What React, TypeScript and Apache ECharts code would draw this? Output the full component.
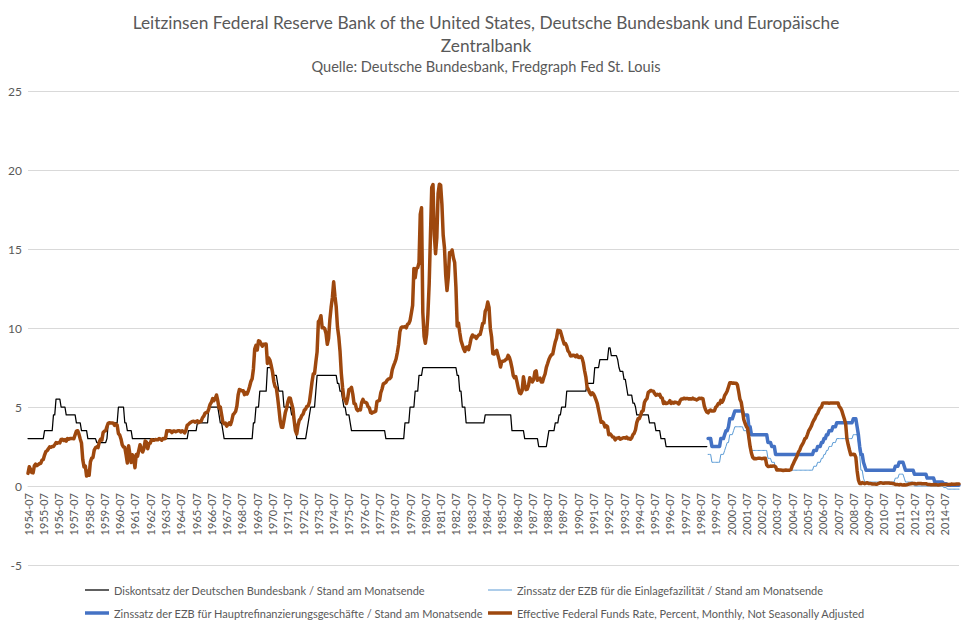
import React, { useEffect, useRef } from "react";
import * as echarts from "echarts";

// Monthly categories 1954-07 .. 2015-06
const startYear = 1954;
const startMonth = 7;
const monthCount = 732;
const categories: string[] = [];
for (let i = 0; i < monthCount; i++) {
  const m = startMonth - 1 + i;
  const y = startYear + Math.floor(m / 12);
  const mm = (m % 12) + 1;
  categories.push(`${y}-${mm < 10 ? "0" + mm : mm}`);
}

const yTicks = [-5, 0, 5, 10, 15, 20, 25];

// Diskontsatz der Deutschen Bundesbank, 1954-07 .. 1998-12
const diskontsatz: number[] = [
  3, 3, 3, 3, 3, 3,
  3, 3, 3, 3, 3, 3, 3, 3.5, 3.5, 3.5, 3.5, 3.5,
  3.5, 3.5, 4.5, 4.5, 5.5, 5.5, 5.5, 5.5, 5, 5, 5, 5,
  4.5, 4.5, 4.5, 4.5, 4.5, 4.5, 4.5, 4.5, 4, 4, 4, 4,
  3.5, 3.5, 3.5, 3.5, 3.5, 3, 3, 3, 3, 3, 3, 3,
  2.75, 2.75, 2.75, 2.75, 2.75, 2.75, 2.75, 2.75, 3, 4, 4, 4,
  4, 4, 4, 4, 4, 5, 5, 5, 5, 5, 4, 4,
  3.5, 3.5, 3.5, 3.5, 3, 3, 3, 3, 3, 3, 3, 3,
  3, 3, 3, 3, 3, 3, 3, 3, 3, 3, 3, 3,
  3, 3, 3, 3, 3, 3, 3, 3, 3, 3, 3, 3,
  3, 3, 3, 3, 3, 3, 3, 3, 3, 3, 3, 3,
  3.5, 3.5, 3.5, 3.5, 3.5, 3.5, 3.5, 4, 4, 4, 4, 4,
  4, 4, 4, 4, 5, 5, 5, 5, 5, 5, 5, 5,
  4.5, 4, 4, 3.5, 3, 3, 3, 3, 3, 3, 3, 3,
  3, 3, 3, 3, 3, 3, 3, 3, 3, 3, 3, 3,
  3, 3, 3, 4, 4, 5, 5, 5, 6, 6, 6, 6,
  6, 6, 7.5, 7.5, 7.5, 7.5, 7, 7, 7, 7, 6.5, 6,
  6, 6, 6, 5, 5, 5, 5, 5, 5, 4.5, 4.5, 4,
  4, 3, 3, 3, 3, 3, 3, 3, 3, 3.5, 4, 4.5,
  5, 5, 5, 5, 6, 7, 7, 7, 7, 7, 7, 7,
  7, 7, 7, 7, 7, 7, 7, 7, 7, 6.5, 6.5, 6,
  6, 5.5, 5, 5, 4.5, 4.5, 4.5, 4, 3.5, 3.5, 3.5, 3.5,
  3.5, 3.5, 3.5, 3.5, 3.5, 3.5, 3.5, 3.5, 3.5, 3.5, 3.5, 3.5,
  3.5, 3.5, 3.5, 3.5, 3.5, 3.5, 3.5, 3.5, 3.5, 3.5, 3.5, 3,
  3, 3, 3, 3, 3, 3, 3, 3, 3, 3, 3, 3,
  3, 3, 4, 4, 4, 4, 5, 5, 5, 5, 6, 6,
  6, 7, 7, 7, 7.5, 7.5, 7.5, 7.5, 7.5, 7.5, 7.5, 7.5,
  7.5, 7.5, 7.5, 7.5, 7.5, 7.5, 7.5, 7.5, 7.5, 7.5, 7.5, 7.5,
  7.5, 7.5, 7.5, 7.5, 7.5, 7.5, 7.5, 7, 7, 6, 6, 5,
  5, 5, 4, 4, 4, 4, 4, 4, 4, 4, 4, 4,
  4, 4, 4, 4, 4, 4.5, 4.5, 4.5, 4.5, 4.5, 4.5, 4.5,
  4.5, 4.5, 4.5, 4.5, 4.5, 4.5, 4.5, 4.5, 4.5, 4.5, 4.5, 4.5,
  4.5, 4.5, 3.5, 3.5, 3.5, 3.5, 3.5, 3.5, 3.5, 3.5, 3.5, 3.5,
  3, 3, 3, 3, 3, 3, 3, 3, 3, 3, 3, 2.5,
  2.5, 2.5, 2.5, 2.5, 2.5, 2.5, 3, 3.5, 3.5, 3.5, 3.5, 3.5,
  4, 4, 4, 4.5, 4.5, 5, 5, 5, 5, 6, 6, 6,
  6, 6, 6, 6, 6, 6, 6, 6, 6, 6, 6, 6,
  6, 6.5, 6.5, 6.5, 6.5, 6.5, 6.5, 7.5, 7.5, 7.5, 7.5, 8,
  8, 8, 8, 8, 8, 8, 8.75, 8.75, 8.25, 8.25, 8.25, 8.25,
  8.25, 8, 7.5, 7.25, 7.25, 7.25, 6.75, 6.75, 6.25, 5.75, 5.75, 5.75,
  5.75, 5.25, 5.25, 5, 4.5, 4.5, 4.5, 4.5, 4.5, 4.5, 4.5, 4.5,
  4.5, 4.5, 4, 4, 4, 4, 4, 3.5, 3.5, 3.5, 3.5, 3,
  3, 3, 3, 2.5, 2.5, 2.5, 2.5, 2.5, 2.5, 2.5, 2.5, 2.5,
  2.5, 2.5, 2.5, 2.5, 2.5, 2.5, 2.5, 2.5, 2.5, 2.5, 2.5, 2.5,
  2.5, 2.5, 2.5, 2.5, 2.5, 2.5, 2.5, 2.5, 2.5, 2.5, 2.5, 2.5,
];

// EZB Einlagefazilität, 1999-01 .. 2015-06
const ezbEinlage: number[] = [
  2, 2, 2, 1.5, 1.5, 1.5, 1.5, 1.5, 1.5, 1.5, 2, 2,
  2, 2.25, 2.5, 2.75, 2.75, 3.25, 3.25, 3.25, 3.5, 3.75, 3.75, 3.75,
  3.75, 3.75, 3.75, 3.75, 3.5, 3.5, 3.5, 3.25, 2.75, 2.75, 2.25, 2.25,
  2.25, 2.25, 2.25, 2.25, 2.25, 2.25, 2.25, 2.25, 2.25, 2.25, 2.25, 1.75,
  1.75, 1.75, 1.5, 1.5, 1.5, 1, 1, 1, 1, 1, 1, 1,
  1, 1, 1, 1, 1, 1, 1, 1, 1, 1, 1, 1,
  1, 1, 1, 1, 1, 1, 1, 1, 1, 1, 1, 1.25,
  1.25, 1.25, 1.5, 1.5, 1.5, 1.75, 1.75, 2, 2, 2.25, 2.25, 2.5,
  2.5, 2.5, 2.75, 2.75, 2.75, 3, 3, 3, 3, 3, 3, 3,
  3, 3, 3, 3, 3, 3, 3.25, 3.25, 3.25, 3.25, 2.75, 2,
  1, 1, 0.5, 0.25, 0.25, 0.25, 0.25, 0.25, 0.25, 0.25, 0.25, 0.25,
  0.25, 0.25, 0.25, 0.25, 0.25, 0.25, 0.25, 0.25, 0.25, 0.25, 0.25, 0.25,
  0.25, 0.25, 0.25, 0.5, 0.5, 0.5, 0.75, 0.75, 0.75, 0.75, 0.5, 0.25,
  0.25, 0.25, 0.25, 0.25, 0.25, 0.25, 0, 0, 0, 0, 0, 0,
  0, 0, 0, 0, 0, 0, 0, 0, 0, 0, 0, 0,
  0, 0, 0, 0, 0, -0.1, -0.1, -0.1, -0.2, -0.2, -0.2, -0.2,
  -0.2, -0.2, -0.2, -0.2, -0.2, -0.2,
];

// EZB Hauptrefinanzierungsgeschäfte, 1999-01 .. 2015-06
const ezbHRG: number[] = [
  3, 3, 3, 2.5, 2.5, 2.5, 2.5, 2.5, 2.5, 2.5, 3, 3,
  3, 3.25, 3.5, 3.5, 3.75, 4.25, 4.25, 4.25, 4.5, 4.75, 4.75, 4.75,
  4.75, 4.75, 4.75, 4.75, 4.5, 4.5, 4.5, 4.5, 3.75, 3.75, 3.25, 3.25,
  3.25, 3.25, 3.25, 3.25, 3.25, 3.25, 3.25, 3.25, 3.25, 3.25, 3.25, 2.75,
  2.75, 2.75, 2.5, 2.5, 2.5, 2, 2, 2, 2, 2, 2, 2,
  2, 2, 2, 2, 2, 2, 2, 2, 2, 2, 2, 2,
  2, 2, 2, 2, 2, 2, 2, 2, 2, 2, 2, 2.25,
  2.25, 2.25, 2.5, 2.5, 2.5, 2.75, 2.75, 3, 3, 3.25, 3.25, 3.5,
  3.5, 3.5, 3.75, 3.75, 3.75, 4, 4, 4, 4, 4, 4, 4,
  4, 4, 4, 4, 4, 4, 4.25, 4.25, 4.25, 3.75, 3.25, 2.5,
  2, 2, 1.5, 1.25, 1, 1, 1, 1, 1, 1, 1, 1,
  1, 1, 1, 1, 1, 1, 1, 1, 1, 1, 1, 1,
  1, 1, 1, 1.25, 1.25, 1.25, 1.5, 1.5, 1.5, 1.5, 1.25, 1,
  1, 1, 1, 1, 1, 1, 0.75, 0.75, 0.75, 0.75, 0.75, 0.75,
  0.75, 0.75, 0.75, 0.75, 0.5, 0.5, 0.5, 0.5, 0.5, 0.5, 0.25, 0.25,
  0.25, 0.25, 0.25, 0.25, 0.25, 0.15, 0.15, 0.15, 0.05, 0.05, 0.05, 0.05,
  0.05, 0.05, 0.05, 0.05, 0.05, 0.05,
];

// Effective Federal Funds Rate, 1954-07 .. 2015-06
const fedFunds: number[] = [
  0.80, 1.22, 1.06, 0.85, 0.83, 1.28,
  1.39, 1.29, 1.35, 1.43, 1.43, 1.64, 1.68, 1.96, 2.18, 2.24, 2.35, 2.48,
  2.45, 2.50, 2.50, 2.62, 2.75, 2.71, 2.75, 2.73, 2.95, 2.96, 2.88, 2.94,
  2.84, 3.00, 2.96, 3.00, 3.00, 3.00, 2.99, 3.24, 3.47, 3.50, 3.28, 2.98,
  2.72, 1.67, 1.20, 1.26, 0.63, 0.93, 0.68, 1.53, 1.76, 1.80, 2.27, 2.42,
  2.48, 2.43, 2.80, 2.96, 2.90, 3.39, 3.47, 3.50, 3.76, 3.98, 4.00, 3.99,
  3.99, 3.97, 3.84, 3.92, 3.85, 3.32, 3.23, 2.98, 2.60, 2.47, 2.44, 1.98,
  1.45, 2.54, 2.02, 1.49, 1.98, 1.73, 1.16, 2.00, 1.88, 2.26, 2.61, 2.33,
  2.15, 2.37, 2.85, 2.78, 2.36, 2.68, 2.71, 2.93, 2.90, 2.90, 2.94, 2.93,
  2.92, 3.00, 2.98, 2.90, 3.00, 2.99, 3.02, 3.49, 3.48, 3.50, 3.48, 3.38,
  3.48, 3.48, 3.43, 3.47, 3.50, 3.50, 3.42, 3.50, 3.45, 3.36, 3.52, 3.85,
  3.90, 3.98, 4.04, 4.09, 4.10, 4.04, 4.09, 4.12, 4.01, 4.08, 4.10, 4.32,
  4.42, 4.60, 4.65, 4.67, 4.90, 5.17, 5.30, 5.53, 5.40, 5.53, 5.76, 5.40,
  4.94, 5.00, 4.53, 4.05, 3.94, 3.98, 3.79, 3.90, 3.99, 3.88, 4.13, 4.51,
  4.60, 4.71, 5.05, 5.76, 6.11, 6.07, 6.02, 6.03, 5.78, 5.91, 5.82, 6.02,
  6.30, 6.61, 6.79, 7.41, 8.67, 8.90, 8.61, 9.19, 9.15, 9.00, 8.85, 8.97,
  8.98, 8.98, 7.76, 8.10, 7.95, 7.61, 7.21, 6.61, 6.29, 6.20, 5.60, 4.90,
  4.14, 3.72, 3.71, 4.15, 4.63, 4.91, 5.31, 5.57, 5.55, 5.20, 4.91, 4.14,
  3.50, 3.29, 3.83, 4.17, 4.27, 4.46, 4.55, 4.80, 4.87, 5.04, 5.06, 5.33,
  5.94, 6.58, 7.09, 7.12, 7.84, 8.49, 10.40, 10.50, 10.78, 10.01, 10.03, 9.95,
  9.65, 8.97, 9.35, 10.51, 11.31, 11.93, 12.92, 12.01, 11.34, 10.06, 9.45, 8.53,
  7.13, 6.24, 5.54, 5.49, 5.22, 5.55, 6.10, 6.14, 6.24, 5.82, 5.22, 5.20,
  4.87, 4.77, 4.84, 4.82, 5.29, 5.48, 5.31, 5.29, 5.25, 5.02, 4.95, 4.65,
  4.61, 4.68, 4.69, 4.73, 5.35, 5.39, 5.42, 5.90, 6.14, 6.47, 6.51, 6.56,
  6.70, 6.78, 6.79, 6.89, 7.36, 7.60, 7.81, 8.04, 8.45, 8.96, 9.76, 10.03,
  10.07, 10.06, 10.09, 10.01, 10.24, 10.29, 10.47, 10.94, 11.43, 13.77, 13.18, 13.78,
  13.82, 14.13, 17.19, 17.61, 10.98, 9.47, 9.03, 9.61, 10.87, 12.81, 15.85, 18.90,
  19.08, 15.93, 14.70, 15.72, 18.52, 19.10, 19.04, 17.82, 15.87, 15.08, 13.31, 12.37,
  13.22, 14.78, 14.68, 14.94, 14.45, 14.15, 12.59, 10.12, 10.31, 9.71, 9.20, 8.95,
  8.68, 8.51, 8.77, 8.80, 8.63, 8.98, 9.37, 9.56, 9.45, 9.48, 9.34, 9.47,
  9.56, 9.59, 9.91, 10.29, 10.32, 11.06, 11.23, 11.64, 11.30, 9.99, 9.43, 8.38,
  8.35, 8.50, 8.58, 8.27, 7.97, 7.53, 7.88, 7.90, 7.92, 7.99, 8.05, 8.27,
  8.14, 7.86, 7.48, 6.99, 6.85, 6.92, 6.56, 6.17, 5.89, 5.85, 6.04, 6.91,
  6.43, 6.10, 6.13, 6.37, 6.85, 6.73, 6.58, 6.73, 7.22, 7.29, 6.69, 6.77,
  6.83, 6.58, 6.58, 6.87, 7.09, 7.51, 7.75, 8.01, 8.19, 8.30, 8.35, 8.76,
  9.12, 9.36, 9.85, 9.84, 9.81, 9.53, 9.24, 8.99, 9.02, 8.84, 8.55, 8.45,
  8.23, 8.24, 8.28, 8.26, 8.18, 8.29, 8.15, 8.13, 8.20, 8.11, 7.81, 7.31,
  6.91, 6.25, 6.12, 5.91, 5.78, 5.90, 5.82, 5.66, 5.45, 5.21, 4.81, 4.43,
  4.03, 4.06, 3.98, 3.73, 3.82, 3.76, 3.25, 3.30, 3.22, 3.10, 3.09, 2.92,
  3.02, 3.03, 3.07, 2.96, 3.00, 3.04, 3.06, 3.03, 3.09, 2.99, 3.02, 2.96,
  3.05, 3.25, 3.34, 3.56, 4.01, 4.25, 4.26, 4.47, 4.73, 4.76, 5.29, 5.45,
  5.53, 5.92, 5.98, 6.05, 6.01, 6.00, 5.85, 5.74, 5.80, 5.76, 5.80, 5.60,
  5.56, 5.22, 5.31, 5.22, 5.24, 5.27, 5.40, 5.22, 5.30, 5.24, 5.31, 5.29,
  5.25, 5.19, 5.39, 5.51, 5.50, 5.56, 5.52, 5.54, 5.54, 5.50, 5.52, 5.50,
  5.56, 5.51, 5.49, 5.45, 5.49, 5.56, 5.54, 5.55, 5.51, 5.07, 4.83, 4.68,
  4.63, 4.76, 4.81, 4.74, 4.74, 4.76, 4.99, 5.07, 5.22, 5.20, 5.42, 5.30,
  5.45, 5.73, 5.85, 6.02, 6.27, 6.53, 6.54, 6.50, 6.52, 6.51, 6.51, 6.40,
  5.98, 5.49, 5.31, 4.80, 4.21, 3.97, 3.77, 3.65, 3.07, 2.49, 2.09, 1.82,
  1.73, 1.74, 1.73, 1.75, 1.75, 1.75, 1.73, 1.74, 1.75, 1.75, 1.34, 1.24,
  1.24, 1.26, 1.25, 1.26, 1.26, 1.22, 1.01, 1.03, 1.01, 1.01, 1.00, 0.98,
  1.00, 1.01, 1.00, 1.00, 1.00, 1.03, 1.26, 1.43, 1.61, 1.76, 1.93, 2.16,
  2.28, 2.50, 2.63, 2.79, 3.00, 3.04, 3.26, 3.50, 3.62, 3.78, 4.00, 4.16,
  4.29, 4.49, 4.59, 4.79, 4.94, 4.99, 5.24, 5.25, 5.25, 5.25, 5.25, 5.24,
  5.25, 5.26, 5.26, 5.25, 5.25, 5.25, 5.26, 5.02, 4.94, 4.76, 4.49, 4.24,
  3.94, 2.98, 2.61, 2.28, 1.98, 2.00, 2.01, 2.00, 1.81, 0.97, 0.39, 0.16,
  0.15, 0.22, 0.18, 0.15, 0.18, 0.21, 0.16, 0.16, 0.15, 0.12, 0.12, 0.12,
  0.11, 0.13, 0.16, 0.20, 0.20, 0.18, 0.18, 0.19, 0.19, 0.19, 0.19, 0.18,
  0.17, 0.16, 0.14, 0.10, 0.09, 0.09, 0.07, 0.10, 0.08, 0.07, 0.08, 0.07,
  0.08, 0.10, 0.13, 0.14, 0.16, 0.16, 0.16, 0.13, 0.14, 0.16, 0.16, 0.16,
  0.14, 0.15, 0.14, 0.15, 0.11, 0.09, 0.09, 0.08, 0.08, 0.09, 0.08, 0.09,
  0.07, 0.07, 0.08, 0.09, 0.09, 0.10, 0.09, 0.09, 0.09, 0.09, 0.09, 0.12,
  0.11, 0.11, 0.11, 0.12, 0.12, 0.13,
];

const seriesNames = [
  "Diskontsatz der Deutschen Bundesbank / Stand am Monatsende",
  "Zinssatz der EZB für die Einlagefazilität / Stand am Monatsende",
  "Zinssatz der EZB für Hauptrefinanzierungsgeschäfte / Stand am Monatsende",
  "Effective Federal Funds Rate, Percent, Monthly, Not Seasonally Adjusted",
];
const seriesColors = ["#000000", "#5B9BD5", "#4472C4", "#9E480E"];
const seriesWidths = [1.25, 1, 3.5, 3.5];

const titleLine1 =
  "Leitzinsen Federal Reserve Bank of the United States, Deutsche Bundesbank und Europäische";
const titleLine2 = "Zentralbank";
const subtitleText = "Quelle: Deutsche Bundesbank, Fredgraph Fed St. Louis";

const FONT = "Lato, 'Liberation Sans', sans-serif";
const TEXT_COLOR = "#595959";

export default function App() {
  const ref = useRef<HTMLDivElement>(null);

  useEffect(() => {
    if (!ref.current) return;
    const chart = echarts.init(ref.current, undefined, { renderer: "svg" });

    const ezbOffset = diskontsatz.length;
    const padEnd = (arr: number[]) =>
      arr.concat(new Array(monthCount - arr.length).fill(null));
    const padStart = (arr: number[]) =>
      new Array(ezbOffset).fill(null).concat(arr);
    const seriesData = [padEnd(diskontsatz), padStart(ezbEinlage), padStart(ezbHRG), fedFunds];

    const mkTitle = (text: string, top: number, size: number, lh: number) => ({
      text,
      left: "center",
      top,
      padding: 0,
      textStyle: {
        fontFamily: FONT,
        fontSize: size,
        fontWeight: "normal",
        color: TEXT_COLOR,
        lineHeight: lh,
      },
    });

    // legend positions: [left, rowCenterY]
    const legendPos: [number, number][] = [
      [85, 590],
      [488, 590],
      [85, 613],
      [488, 613],
    ];

    chart.setOption({
      animation: false,
      textStyle: { fontFamily: FONT },
      title: [
        mkTitle(titleLine1, 12, 17.3, 20),
        mkTitle(titleLine2, 35, 17.3, 20),
        mkTitle(subtitleText, 58, 14.6, 17),
      ],
      grid: { left: 28, right: 13, top: 91, bottom: 63, containLabel: false },
      legend: seriesNames.map((name, i) => ({
        orient: "horizontal",
        left: legendPos[i][0],
        top: legendPos[i][1] - 7,
        padding: 0,
        icon: "rect",
        itemWidth: 24,
        itemHeight: seriesWidths[i],
        data: [name],
        selectedMode: false,
        textStyle: { fontFamily: FONT, fontSize: 11, color: TEXT_COLOR, lineHeight: 14 },
        itemStyle: { color: seriesColors[i], borderWidth: 0 },
        lineStyle: { width: 0 },
      })),
      xAxis: {
        type: "category",
        data: categories,
        boundaryGap: false,
        offset: -79,
        axisLine: { show: true, onZero: false, lineStyle: { color: "#d9d9d9", width: 1 } },
        axisTick: { show: false },
        axisLabel: {
          interval: 11,
          rotate: 90,
          fontSize: 11,
          color: TEXT_COLOR,
          margin: 7,
          fontFamily: FONT,
        },
        splitLine: { show: false },
      },
      yAxis: {
        type: "value",
        min: yTicks[0],
        max: yTicks[yTicks.length - 1],
        interval: 5,
        axisLine: { show: false },
        axisTick: { show: false },
        axisLabel: { fontSize: 12, color: TEXT_COLOR, margin: 6, fontFamily: FONT },
        splitLine: { show: true, lineStyle: { color: "#d9d9d9", width: 1 } },
      },
      series: seriesNames.map((name, i) => ({
        name,
        type: "line",
        data: seriesData[i],
        symbol: "none",
        showSymbol: false,
        connectNulls: false,
        lineStyle: { color: seriesColors[i], width: seriesWidths[i], cap: "round", join: "round" },
        itemStyle: { color: seriesColors[i] },
        emphasis: { disabled: true },
      })),
    });

    return () => chart.dispose();
  }, []);

  return (
    <div
      ref={ref}
      style={{ position: "absolute", left: 0, top: 0, width: 972, height: 628 }}
    />
  );
}
